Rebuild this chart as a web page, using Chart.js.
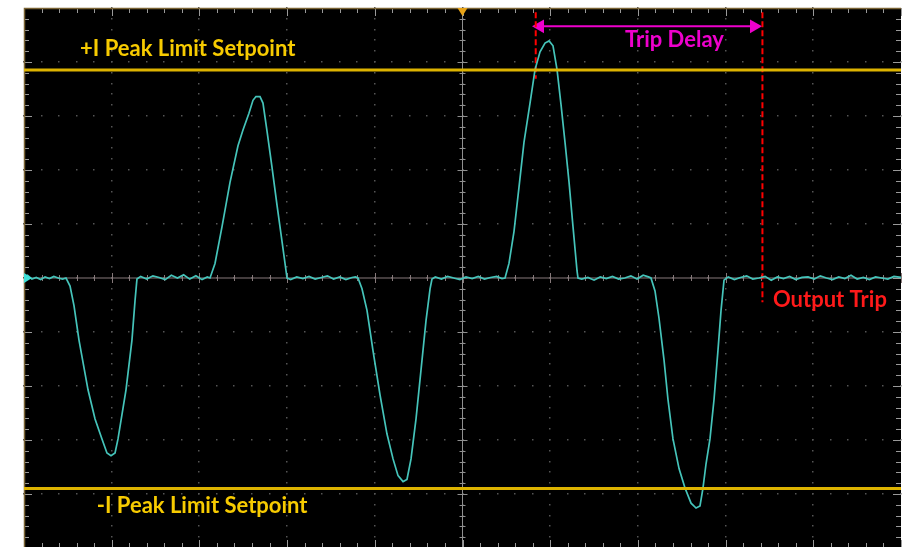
<!DOCTYPE html>
<html>
<head>
<meta charset="utf-8">
<script src="https://cdn.jsdelivr.net/npm/chart.js@4.4.1/dist/chart.umd.min.js"></script>
<style>
  html, body { margin: 0; padding: 0; background: #fff; overflow: hidden; }
  #wrap { width: 910px; height: 547px; overflow: hidden; }
</style>
</head>
<body>
<div id="wrap"><canvas id="scope" width="910" height="556"></canvas></div>
<script>
// ---------------- 数据（单位：格 div，横 0..10，纵 -5..5）----------------
const traceTime = [
  0, 0.04, 0.09, 0.14, 0.19, 0.24, 0.29, 0.34, 0.39, 0.44,
  0.479, 0.525, 0.570, 0.627, 0.730, 0.810, 0.889, 0.946, 0.992, 1.038, 1.072, 1.163, 1.231, 1.266, 1.288,
  1.33, 1.40, 1.47, 1.54, 1.61, 1.68, 1.75, 1.82, 1.89, 1.96, 2.03, 2.09,
  2.121, 2.178, 2.258, 2.349, 2.440, 2.497, 2.565, 2.611, 2.645, 2.691, 2.725, 2.771, 2.828, 2.885, 2.942, 2.999,
  3.04, 3.11, 3.18, 3.25, 3.32, 3.39, 3.46, 3.53, 3.60, 3.67, 3.74, 3.78,
  3.808, 3.854, 3.911, 3.979, 4.059, 4.139, 4.208, 4.265, 4.322, 4.367, 4.413, 4.470, 4.527, 4.584, 4.630, 4.652,
  4.69, 4.76, 4.83, 4.90, 4.97, 5.04, 5.11, 5.18, 5.25, 5.32, 5.39, 5.45,
  5.485, 5.530, 5.587, 5.644, 5.701, 5.770, 5.827, 5.884, 5.941, 5.987, 6.032, 6.078, 6.124, 6.169, 6.215, 6.260, 6.306, 6.317,
  6.36, 6.43, 6.50, 6.57, 6.64, 6.71, 6.78, 6.85, 6.92, 6.99, 7.06, 7.12,
  7.149, 7.195, 7.241, 7.298, 7.343, 7.400, 7.469, 7.537, 7.606, 7.663, 7.708, 7.742, 7.777, 7.822, 7.868, 7.913, 7.948, 7.982,
  8.03, 8.10, 8.17, 8.24, 8.31, 8.38, 8.45, 8.52, 8.59, 8.66, 8.73, 8.80, 8.87, 8.94, 9.01,
  9.08, 9.15, 9.22, 9.29, 9.36, 9.43, 9.50, 9.57, 9.64, 9.71, 9.78, 9.85, 9.92, 10.0,
]
const traceLevel = [
  0.02, 0.05, -0.02, 0.01, -0.03, 0.02, -0.01, 0.03, 0.00, -0.02,
  0, -0.15, -0.51, -1.15, -2.07, -2.61, -2.98, -3.24, -3.29, -3.24, -2.98, -2.07, -1.15, -0.42, -0.02,
  0.03, -0.02, 0.04, 0.01, -0.03, 0.05, 0.00, 0.06, -0.02, 0.04, -0.03, 0.02,
  0, 0.27, 0.95, 1.77, 2.45, 2.74, 3.05, 3.29, 3.36, 3.36, 3.24, 2.72, 2.05, 1.35, 0.68, 0,
  -0.03, 0.02, -0.01, 0.03, -0.02, 0.01, 0.04, -0.02, 0.02, -0.03, 0.01, 0.02,
  0, -0.20, -0.60, -1.34, -2.16, -2.89, -3.35, -3.66, -3.77, -3.73, -3.35, -2.61, -1.70, -0.79, -0.20, -0.02,
  0.02, -0.02, 0.03, 0.00, -0.03, 0.02, -0.01, 0.03, -0.02, 0.01, 0.03, -0.01,
  0, 0.27, 0.86, 1.68, 2.51, 3.24, 3.86, 4.19, 4.35, 4.39, 4.30, 3.86, 3.20, 2.51, 1.77, 0.95, 0.13, 0,
  -0.02, 0.01, -0.04, 0.02, -0.01, 0.03, -0.02, 0.00, 0.04, -0.02, 0.05, 0.02,
  0, -0.24, -0.75, -1.52, -2.25, -2.98, -3.53, -3.89, -4.17, -4.26, -4.22, -3.89, -3.44, -2.98, -2.25, -1.34, -0.60, -0.04,
  0.02, -0.03, 0.01, 0.04, -0.02, 0.00, 0.03, -0.04, 0.02, -0.01, 0.03, -0.03, 0.01, 0.02, -0.02,
  0.04, 0.00, -0.03, 0.02, -0.01, 0.05, -0.02, 0.01, -0.03, 0.02, 0.00, -0.02, 0.03, 0.01,
]
const limitLevels = [3.85, -3.9]          // +I / -I 峰值限定线
const tripTimes = [5.835, 8.42]           // 越限时刻 / 输出跳闸时刻
const tripMarkerTop = 4.92
const tripMarkerBottoms = [3.69, -0.45]
const delayArrowTimes = [5.884, 8.324]
const delayArrowLevel = 4.66

// 文字标注（位置为格坐标）
const labels = [
  { text: '+I Peak Limit Setpoint', x: 0.639, y: 4.115, color: '#F7CB00' },
  { text: '-I Peak Limit Setpoint', x: 0.829, y: -4.36, color: '#F7CB00' },
  { text: 'Trip Delay', x: 6.853, y: 4.27, color: '#EE00CC' },
  { text: 'Output Trip', x: 8.54, y: -0.54, color: '#FF1A1A' },
]

const DIVS = 10, MINOR = 5

// ---------------- 示波器栅格 ----------------
const graticule = {
  id: 'graticule',
  beforeDatasetsDraw(chart) {
    const { ctx, chartArea: a, scales: { x, y } } = chart
    ctx.save()
    ctx.fillStyle = '#000'
    ctx.fillRect(a.left, a.top, a.right - a.left, a.bottom - a.top)

    // 主格点线（点状）
    ctx.fillStyle = '#555'
    for (let i = 1; i < DIVS; i++) {
      const px = x.getPixelForValue(i)
      for (let j = 0; j <= DIVS * MINOR; j++) {
        const py = y.getPixelForValue(-5 + j / MINOR)
        ctx.fillRect(Math.round(px) - 1, Math.round(py) - 1, 1.5, 1.5)
      }
    }
    for (let k = -4; k <= 4; k++) {
      const py = y.getPixelForValue(k)
      for (let j = 0; j <= DIVS * MINOR; j++) {
        const px = x.getPixelForValue(j / MINOR)
        ctx.fillRect(Math.round(px) - 1, Math.round(py) - 1, 1.5, 1.5)
      }
    }

    // 中心轴 + 刻度
    const cx = x.getPixelForValue(5), cy = y.getPixelForValue(0)
    ctx.lineWidth = 1
    ctx.strokeStyle = '#8f8f8f'
    ctx.beginPath()
    ctx.moveTo(cx, a.top); ctx.lineTo(cx, a.bottom)
    for (let j = 0; j <= DIVS * MINOR; j++) {
      const py = Math.round(y.getPixelForValue(-5 + j / MINOR)) + 0.5
      const len = j % MINOR === 0 ? 5 : 3
      ctx.moveTo(cx - len, py); ctx.lineTo(cx + len, py)
    }
    ctx.stroke()
    ctx.strokeStyle = '#86797a'
    ctx.beginPath()
    ctx.moveTo(a.left, cy); ctx.lineTo(a.right, cy)
    for (let j = 0; j <= DIVS * MINOR; j++) {
      const px = Math.round(x.getPixelForValue(j / MINOR)) + 0.5
      const len = j % MINOR === 0 ? 5 : 3
      ctx.moveTo(px, cy - len); ctx.lineTo(px, cy + len)
    }
    ctx.stroke()

    // 边框刻度
    ctx.strokeStyle = '#9a9a9a'
    ctx.beginPath()
    for (let j = 0; j <= DIVS * MINOR; j++) {
      const py = Math.round(y.getPixelForValue(-5 + j / MINOR)) + 0.5
      const px = Math.round(x.getPixelForValue(j / MINOR)) + 0.5
      const len = j % MINOR === 0 ? 8 : 5
      ctx.moveTo(a.left, py); ctx.lineTo(a.left + len, py)
      ctx.moveTo(a.right, py); ctx.lineTo(a.right - len, py)
      ctx.moveTo(px, a.top); ctx.lineTo(px, a.top + len)
      ctx.moveTo(px, a.bottom); ctx.lineTo(px, a.bottom - len)
    }
    ctx.stroke()

    ctx.strokeStyle = '#7a6334'
    ctx.lineWidth = 1.5
    ctx.beginPath()
    ctx.moveTo(a.left + 0.5, a.bottom); ctx.lineTo(a.left + 0.5, a.top + 0.5); ctx.lineTo(a.right, a.top + 0.5)
    ctx.stroke()
    ctx.restore()
  },
  afterDatasetsDraw(chart) {
    const { ctx, chartArea: a, scales: { x, y } } = chart
    ctx.save()
    // 触发位置标记（顶部）
    const tx = x.getPixelForValue(5)
    ctx.fillStyle = '#E8A317'
    ctx.beginPath()
    ctx.moveTo(tx - 5, a.top); ctx.lineTo(tx + 5, a.top); ctx.lineTo(tx, a.top + 8)
    ctx.fill()
    // 通道接地标记（左侧）
    const gy = y.getPixelForValue(0)
    ctx.fillStyle = '#3fe0d8'
    ctx.beginPath()
    ctx.moveTo(a.left, gy - 5); ctx.lineTo(a.left + 8, gy); ctx.lineTo(a.left, gy + 5)
    ctx.fill()

    ctx.font = 'bold 22px Lato, "Open Sans", sans-serif'
    ctx.textBaseline = 'alphabetic'
    labels.forEach(l => {
      ctx.fillStyle = l.color
      ctx.fillText(l.text, x.getPixelForValue(l.x), y.getPixelForValue(l.y))
    })
    ctx.restore()
  },
}

const flat = (level) => [{ x: 0, y: level }, { x: DIVS, y: level }]

new Chart(document.getElementById('scope'), {
  type: 'line',
  data: {
    datasets: [
      { data: flat(limitLevels[0]), borderColor: '#DDB300', borderWidth: 3, pointRadius: 0 },
      { data: flat(limitLevels[1]), borderColor: '#DDB300', borderWidth: 3, pointRadius: 0 },
      {
        data: traceTime.map((t, i) => ({ x: t, y: traceLevel[i] })),
        borderColor: '#45C4BA', borderWidth: 1.7, pointRadius: 0, tension: 0,
      },
      ...tripTimes.map((t, i) => ({
        data: [{ x: t, y: tripMarkerTop }, { x: t, y: tripMarkerBottoms[i] }],
        borderColor: '#FF0000', borderWidth: 2, borderDash: [6, 3], pointRadius: 0,
      })),
      {
        data: delayArrowTimes.map(t => ({ x: t, y: delayArrowLevel })),
        borderColor: '#EE00CC', backgroundColor: '#EE00CC', borderWidth: 2,
        pointStyle: 'triangle', pointRadius: 8, pointRotation: [270, 90], pointBorderWidth: 0,
      },
    ],
  },
  options: {
    responsive: false,
    animation: false,
    layout: { padding: { left: 24, right: 9, top: 4, bottom: 6 } },
    scales: {
      x: { type: 'linear', min: 0, max: DIVS, display: false },
      y: { type: 'linear', min: -5, max: 5, display: false },
    },
    plugins: { legend: { display: false }, tooltip: { enabled: false } },
  },
  plugins: [graticule],
})
</script>
</body>
</html>
